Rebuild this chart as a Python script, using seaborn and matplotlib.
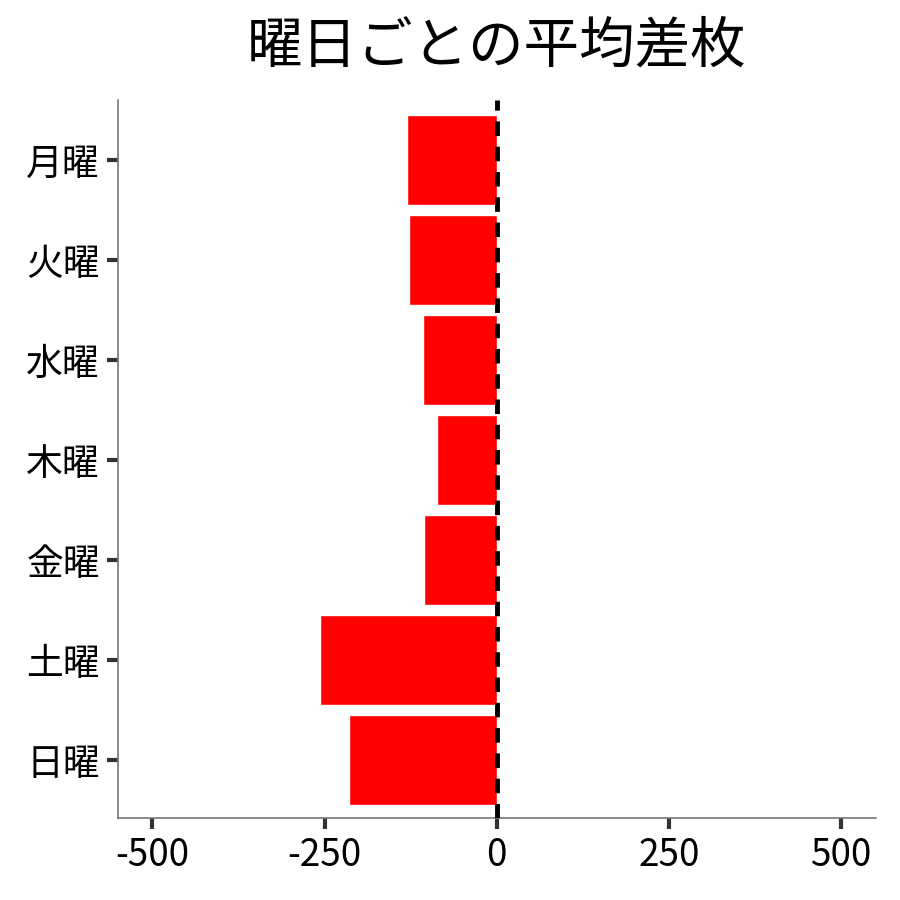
import pandas as pd
import matplotlib
matplotlib.use("Agg")
import matplotlib.pyplot as plt
import seaborn as sns

# values
days = ["月曜", "火曜", "水曜", "木曜", "金曜", "土曜", "日曜"]
avg_diff = [-131, -128, -107, -87, -106, -257, -215]

df = pd.DataFrame({"day": days, "diff": avg_diff})

sns.set_theme(style="ticks")
plt.rcParams["font.family"] = ["Noto Sans CJK JP", "DejaVu Sans"]

fig, ax = plt.subplots(figsize=(9, 9), dpi=100)
sns.barplot(data=df, x="diff", y="day", orient="h", color="#ff0000",
            saturation=1, width=0.9, ax=ax)
ax.axvline(0, color="black", linestyle=(0, (3, 2.2)), linewidth=3.5, zorder=5)

ax.set_xlim(-550, 550)
ax.set_ylim(6.58, -0.6)
ax.set_xticks([-500, -250, 0, 250, 500])
ax.set_xticklabels(["-500", "-250", "0", "250", "500"])
ax.set_xlabel("")
ax.set_ylabel("")
ax.set_title("曜日ごとの平均差枚", fontsize=40, pad=27, color="black")

sns.despine(ax=ax)
for s in ["left", "bottom"]:
    ax.spines[s].set_color("#777777")
    ax.spines[s].set_linewidth(1.2)
ax.tick_params(axis="both", length=8, width=3, color="#333333",
               labelsize=26.5, labelcolor="black", pad=5)

fig.subplots_adjust(left=0.131, right=0.973, top=0.889, bottom=0.091)
fig.savefig("out.png", dpi=100)
